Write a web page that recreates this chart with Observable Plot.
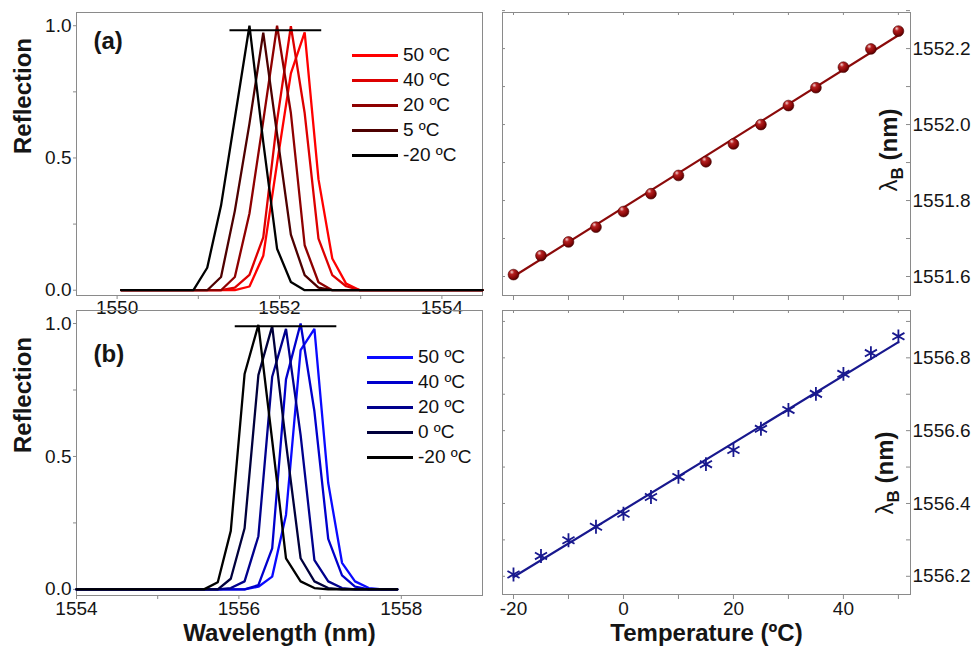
<!DOCTYPE html>
<html><head><meta charset="utf-8">
<script src="https://cdn.jsdelivr.net/npm/d3@7"></script>
<script src="https://cdn.jsdelivr.net/npm/@observablehq/plot@0.6"></script>
<style>
body{margin:0;background:#fff;}
#wrap{position:relative;width:977px;height:650px;overflow:hidden;font-family:"Liberation Sans",Arial,sans-serif;color:#111;}
#wrap svg{position:absolute;}
.lg{position:absolute;font-family:"Liberation Sans",Arial,sans-serif;font-size:19px;color:#111;}
.lg .row{display:flex;align-items:center;height:25px;}
.lg .sw{width:46px;height:3px;margin-right:5px;}
</style></head><body><div id="wrap"></div>
<script>
// ---------- Panel (a): reflection spectra ----------
const gridA = [1550.05, 1550.94, 1551.11, 1551.28, 1551.45, 1551.63, 1551.80, 1551.97, 1552.14, 1552.31, 1552.48, 1552.65, 1552.82, 1552.99, 1554.5];
const rA_50  = [0, 0, 0, 0, 0, 0.014, 0.13, 0.48, 0.82, 0.975, 0.42, 0.12, 0.025, 0, 0];
const rA_40  = [0, 0, 0, 0, 0.01, 0.058, 0.20, 0.64, 0.998, 0.67, 0.195, 0.057, 0.015, 0, 0];
const rA_20  = [0, 0, 0, 0, 0.05, 0.29, 0.64, 1.0, 0.67, 0.17, 0.03, 0, 0, 0, 0];
const rA_5   = [0, 0, 0, 0.05, 0.30, 0.63, 0.974, 0.59, 0.21, 0.057, 0.01, 0, 0, 0, 0];
const rA_m20 = [0, 0, 0.085, 0.32, 0.65, 1.0, 0.56, 0.157, 0.031, 0, 0, 0, 0, 0, 0];
const labelsA = ["50 ºC", "40 ºC", "20 ºC", "5 ºC", "-20 ºC"];
const colorsA = ["#ff0000", "#dd0000", "#8e0000", "#4e0000", "#000000"];
const refA = [{x1: 1551.39, x2: 1552.52, y: 0.983}];

// ---------- Panel (b): reflection spectra ----------
const gridB = [1554.0, 1555.57, 1555.74, 1555.90, 1556.07, 1556.24, 1556.41, 1556.58, 1556.76, 1556.93, 1557.10, 1557.27, 1557.43, 1557.60, 1557.77, 1557.95];
const rB_50  = [0, 0, 0, 0, 0, 0.01, 0.048, 0.28, 0.90, 0.98, 0.40, 0.10, 0.03, 0.005, 0, 0];
const rB_40  = [0, 0, 0, 0, 0, 0.016, 0.154, 0.79, 1.0, 0.67, 0.19, 0.053, 0.01, 0, 0, 0];
const rB_20  = [0, 0, 0, 0.005, 0.03, 0.20, 0.80, 0.98, 0.58, 0.11, 0.03, 0.005, 0, 0, 0, 0];
const rB_0   = [0, 0, 0, 0.04, 0.23, 0.806, 0.99, 0.55, 0.117, 0.03, 0.005, 0, 0, 0, 0, 0];
const rB_m20 = [0, 0, 0.027, 0.22, 0.81, 0.995, 0.56, 0.117, 0.03, 0.005, 0, 0, 0, 0, 0, 0];
const labelsB = ["50 ºC", "40 ºC", "20 ºC", "0 ºC", "-20 ºC"];
const colorsB = ["#0a0aff", "#0000cc", "#00008c", "#00003c", "#000000"];
const refB = [{x1: 1555.955, x2: 1557.206, y: 0.99}];

// ---------- Bragg wavelength vs temperature ----------
const temps = [-20, -15, -10, -5, 0, 5, 10, 15, 20, 25, 30, 35, 40, 45, 50];
const lamA = [1551.605, 1551.655, 1551.691, 1551.730, 1551.771, 1551.818, 1551.866, 1551.902, 1551.949, 1552.000, 1552.050, 1552.097, 1552.151, 1552.199, 1552.246];
const lamB = [1556.205, 1556.256, 1556.299, 1556.336, 1556.372, 1556.418, 1556.473, 1556.508, 1556.547, 1556.605, 1556.657, 1556.701, 1556.756, 1556.813, 1556.859];
const fitT = [-20, 50];
const fitA = [1551.600, 1552.235];
const fitB = [1556.198, 1556.843];

// ---------- Ticks ----------
const reflTicks = [0, 0.25, 0.5, 0.75, 1.0];
const reflLabels = ["0.0", "", "0.5", "", "1.0"];
const wlTicksA = [1550, 1551, 1552, 1553, 1554];
const wlLabelsA = ["1550", "", "1552", "", "1554"];
const wlTicksB = [1554, 1555, 1556, 1557, 1558];
const wlLabelsB = ["1554", "", "1556", "", "1558"];
const tTicks = [-20, -10, 0, 10, 20, 30, 40, 50];
const tLabels = ["-20", "", "0", "", "20", "", "40", ""];
const lamTicksA = [1551.6, 1551.7, 1551.8, 1551.9, 1552.0, 1552.1, 1552.2, 1552.3];
const lamLabelsA = ["1551.6", "", "1551.8", "", "1552.0", "", "1552.2", ""];
const lamTicksB = [1556.2, 1556.3, 1556.4, 1556.5, 1556.6, 1556.7, 1556.8, 1556.9];
const lamLabelsB = ["1556.2", "", "1556.4", "", "1556.6", "", "1556.8", ""];

const FRAME = "#8a8a8a", TXT = "#151515";
const FONT = "'Liberation Sans', Arial, sans-serif";
const wrap = document.getElementById("wrap");

function fmt(ticks, labels) { const m = new Map(ticks.map((t, i) => [t, labels[i]])); return d => m.get(d) ?? ""; }
function place(svg, left, top) { svg.style.left = left + "px"; svg.style.top = top + "px"; wrap.appendChild(svg); }

function spectrumPlot(c) {
  const rows = c.series.flatMap((arr, k) => arr.map((r, i) => ({wl: c.grid[i], r, s: c.labels[k]})));
  return Plot.plot({
    width: 490, height: c.height,
    marginLeft: 76, marginRight: 8, marginTop: c.mt, marginBottom: c.mb,
    style: {background: "transparent", overflow: "visible", fontFamily: FONT, color: TXT},
    x: {domain: c.xdom}, y: {domain: c.ydom},
    color: {domain: c.labels, range: c.colors},
    marks: [
      Plot.frame({stroke: FRAME}),
      Plot.axisY(reflTicks, {tickSize: 3, tickPadding: 2, tickFormat: fmt(reflTicks, reflLabels), fontSize: 19, stroke: FRAME, fill: TXT, label: null}),
      Plot.axisX(c.xticks, {tickSize: 4, tickPadding: c.pad, tickFormat: fmt(c.xticks, c.xlabels), fontSize: 19, stroke: FRAME, fill: TXT, label: null}),
      Plot.line(rows, {x: "wl", y: "r", z: "s", stroke: "s", strokeWidth: 2.3, strokeLinejoin: "miter"}),
      Plot.ruleY(c.ref, {y: "y", x1: "x1", x2: "x2", stroke: "#000", strokeWidth: 2}),
      Plot.text([c.letter], {text: d => d, frameAnchor: "top-left", dx: 17, dy: c.letterDy, fontSize: 24, fontWeight: "bold", textAnchor: "start", lineAnchor: "middle", fill: TXT}),
      Plot.text(["Reflection"], {text: d => d, frameAnchor: "left", dx: -53, rotate: -90, fontSize: 24, fontWeight: "bold", fill: TXT}),
      ...(c.xtitle ? [Plot.text([c.xtitle], {text: d => d, frameAnchor: "bottom", dy: 45, fontSize: 24, fontWeight: "bold", fill: TXT})] : [])
    ]
  });
}

function tempPlot(c) {
  const fw = 408, fh = c.height - c.mt - c.mb;
  const pts = temps.map((t, i) => ({t, l: c.lam[i]}));
  const fit = fitT.map((t, i) => ({t, l: c.fit[i]}));
  return Plot.plot({
    width: 487, height: c.height,
    marginLeft: 12, marginRight: 67, marginTop: c.mt, marginBottom: c.mb,
    style: {background: "transparent", overflow: "visible", fontFamily: FONT, color: TXT},
    x: {domain: [-22, 52.2]}, y: {domain: c.ydom},
    marks: [
      Plot.frame({stroke: FRAME}),
      Plot.tickY(c.yticks, {y: d => d, insetLeft: fw - 4, stroke: FRAME}),
      Plot.tickY(c.yticks, {y: d => d, insetRight: fw - 3, stroke: FRAME}),
      Plot.tickX(tTicks, {x: d => d, insetBottom: fh - 3, stroke: FRAME}),
      Plot.axisX(tTicks, {tickSize: 5, tickPadding: 2, tickFormat: c.xlabels ? fmt(tTicks, c.xlabels) : () => "", fontSize: 19, stroke: FRAME, fill: TXT, label: null}),
      Plot.axisY(c.yticks, {anchor: "right", tickSize: 0, tickPadding: 2, tickFormat: fmt(c.yticks, c.ylabels), fontSize: 19, fill: TXT, label: null}),
      Plot.line(fit, {x: "t", y: "l", stroke: c.lineColor, strokeWidth: 2.2}),
      c.sphere
        ? Plot.dot(pts, {x: "t", y: "l", r: 5.4, fill: "url(#sphereGrad)", stroke: "#4a0000", strokeWidth: 0.6})
        : Plot.dot(pts, {x: "t", y: "l", r: 6.6, symbol: "asterisk", stroke: c.lineColor, strokeWidth: 1.8}),
      ...(c.xtitle ? [Plot.text([c.xtitle], {text: d => d, frameAnchor: "bottom", dy: 46, fontSize: 24, fontWeight: "bold", fill: TXT})] : [])
    ]
  });
}

function addLambda(svg, x, y) {
  const t = d3.select(svg).append("text")
    .attr("transform", `translate(${x},${y}) rotate(-90)`)
    .attr("text-anchor", "middle").attr("font-size", 24).attr("fill", TXT)
    .attr("font-family", FONT);
  t.append("tspan").text("λ");
  t.append("tspan").attr("font-weight", "bold").attr("font-size", 17).attr("dy", 6).text("B");
  t.append("tspan").attr("font-weight", "bold").attr("dy", -6).text(" (nm)");
}

function legend(left, top, labels, colors) {
  const d = document.createElement("div");
  d.className = "lg"; d.style.left = left + "px"; d.style.top = top + "px";
  labels.forEach((lab, i) => {
    const row = document.createElement("div"); row.className = "row";
    const sw = document.createElement("div"); sw.className = "sw"; sw.style.background = colors[i];
    const tx = document.createElement("span"); tx.textContent = lab;
    row.appendChild(sw); row.appendChild(tx); d.appendChild(row);
  });
  wrap.appendChild(d);
}

// Top-left (a)
const tl = spectrumPlot({height: 320, mt: 12, mb: 25, xdom: [1549.5, 1554.5], ydom: [-0.02, 1.05],
  grid: gridA, series: [rA_50, rA_40, rA_20, rA_5, rA_m20], labels: labelsA, colors: colorsA,
  xticks: wlTicksA, xlabels: wlLabelsA, pad: 1, ref: refA, letter: "(a)", letterDy: 29});
place(tl, 0, 0);

// Bottom-left (b)
const bl = spectrumPlot({height: 350, mt: 10, mb: 55, xdom: [1554, 1559], ydom: [-0.023, 1.049],
  grid: gridB, series: [rB_50, rB_40, rB_20, rB_0, rB_m20], labels: labelsB, colors: colorsB,
  xticks: wlTicksB, xlabels: wlLabelsB, pad: 2, ref: refB, letter: "(b)", letterDy: 44, xtitle: "Wavelength (nm)"});
place(bl, 0, 300);

// Top-right
const tr = tempPlot({height: 320, mt: 12, mb: 25, ydom: [1551.55, 1552.295], lam: lamA, fit: fitA,
  yticks: lamTicksA, ylabels: lamLabelsA, lineColor: "#8b0a0a", sphere: true});
const defs = d3.select(tr).insert("defs", ":first-child");
const g = defs.append("radialGradient").attr("id", "sphereGrad").attr("cx", "38%").attr("cy", "32%").attr("r", "70%").attr("fx", "34%").attr("fy", "26%");
g.append("stop").attr("offset", "0%").attr("stop-color", "#f4d4d4");
g.append("stop").attr("offset", "30%").attr("stop-color", "#b52020");
g.append("stop").attr("offset", "70%").attr("stop-color", "#8a0808");
g.append("stop").attr("offset", "100%").attr("stop-color", "#4f0000");
addLambda(tr, 407, 150);
place(tr, 490, 0);

// Bottom-right
const br = tempPlot({height: 350, mt: 10, mb: 56, ydom: [1556.15, 1556.93], lam: lamB, fit: fitB,
  yticks: lamTicksB, ylabels: lamLabelsB, lineColor: "#18188e", sphere: false,
  xlabels: tLabels, xtitle: "Temperature (ºC)"});
addLambda(br, 403, 173);
place(br, 490, 300);

legend(352, 42.5, labelsA, colorsA);
legend(367, 344.5, labelsB, colorsB);
</script>
</body></html>
